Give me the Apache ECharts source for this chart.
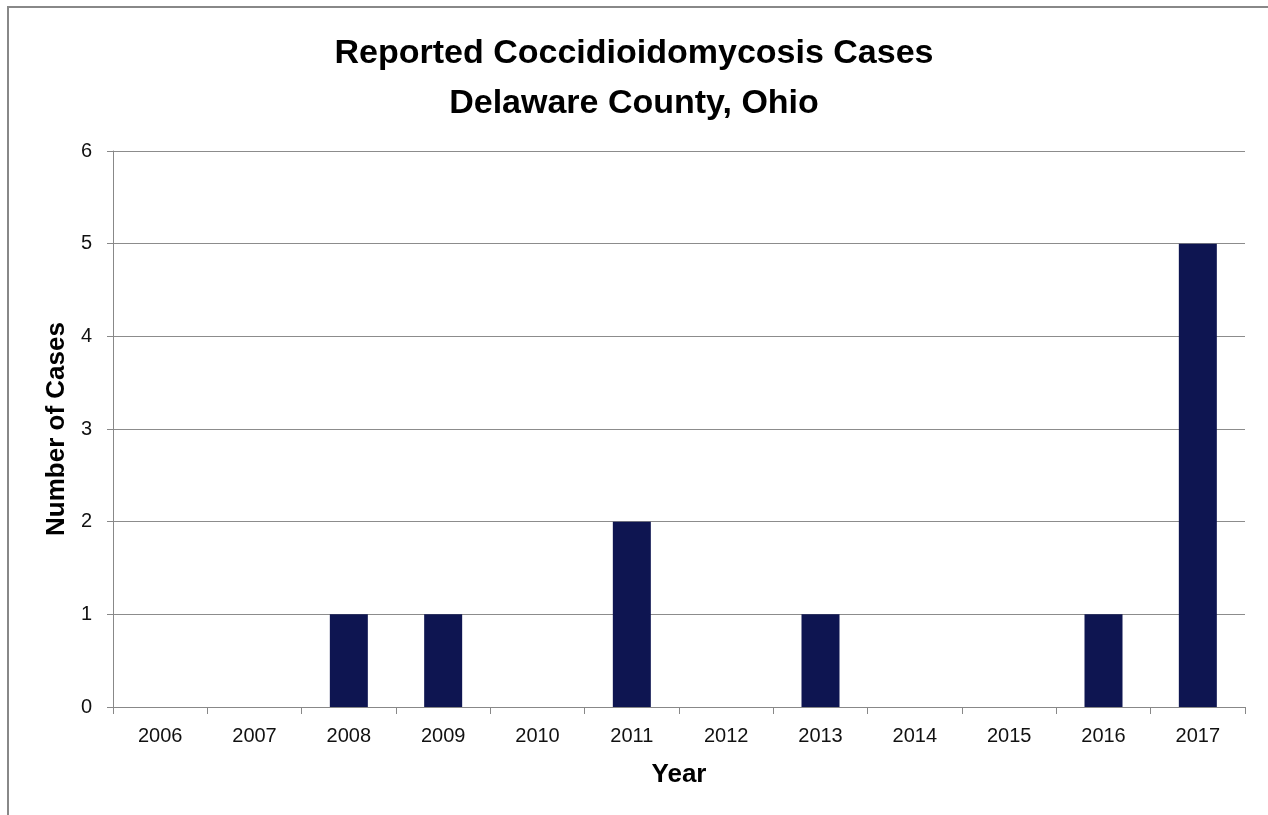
<!DOCTYPE html>
<html>
<head>
<meta charset="utf-8">
<script src="https://cdn.jsdelivr.net/npm/echarts@6/dist/echarts.min.js"></script>
<style>
  html, body { margin: 0; padding: 0; background: #fff; }
  #chart { width: 1268px; height: 815px; }
</style>
</head>
<body>
<div id="chart"></div>
<script>
const years = ['2006', '2007', '2008', '2009', '2010', '2011', '2012', '2013', '2014', '2015', '2016', '2017'];
const cases = [0, 0, 1, 1, 0, 2, 0, 1, 0, 0, 1, 5];
const yTicks = { min: 0, max: 6, interval: 1 };

const chart = echarts.init(document.getElementById('chart'));
const font = '"Liberation Sans", Arial, sans-serif';

chart.setOption({
  animation: false,
  backgroundColor: '#fff',
  title: {
    text: 'Reported Coccidioidomycosis Cases\nDelaware County, Ohio',
    left: 'center',
    top: 24,
    textStyle: { fontFamily: font, fontSize: 34, fontWeight: 'bold', color: '#000', lineHeight: 50 }
  },
  graphic: [{
    type: 'rect',
    shape: { x: 8, y: 7, width: 1300, height: 900 },
    style: { fill: 'none', stroke: '#888', lineWidth: 2 },
    silent: true
  }],
  grid: { left: 113, right: 23, top: 151, bottom: 108 },
  xAxis: {
    type: 'category',
    data: years,
    name: 'Year',
    nameLocation: 'middle',
    nameGap: 55,
    nameTextStyle: { fontFamily: font, fontSize: 26, fontWeight: 'bold', color: '#000' },
    axisLine: { lineStyle: { color: '#888', width: 1 } },
    axisTick: { show: true, length: 7, lineStyle: { color: '#888' } },
    axisLabel: { fontFamily: font, fontSize: 20, color: '#111', margin: 19 }
  },
  yAxis: {
    type: 'value',
    min: yTicks.min,
    max: yTicks.max,
    interval: yTicks.interval,
    name: 'Number of Cases',
    nameLocation: 'middle',
    nameGap: 43,
    nameTextStyle: { fontFamily: font, fontSize: 26, fontWeight: 'bold', color: '#000' },
    axisLine: { show: true, lineStyle: { color: '#888', width: 1 } },
    axisTick: { show: true, length: 6, lineStyle: { color: '#888' } },
    axisLabel: { fontFamily: font, fontSize: 20, color: '#111', margin: 21 },
    splitLine: { lineStyle: { color: '#8c8c8c', width: 1 } }
  },
  series: [{
    type: 'bar',
    data: cases,
    barWidth: 38,
    itemStyle: { color: '#0E1551' }
  }]
});
</script>
</body>
</html>
